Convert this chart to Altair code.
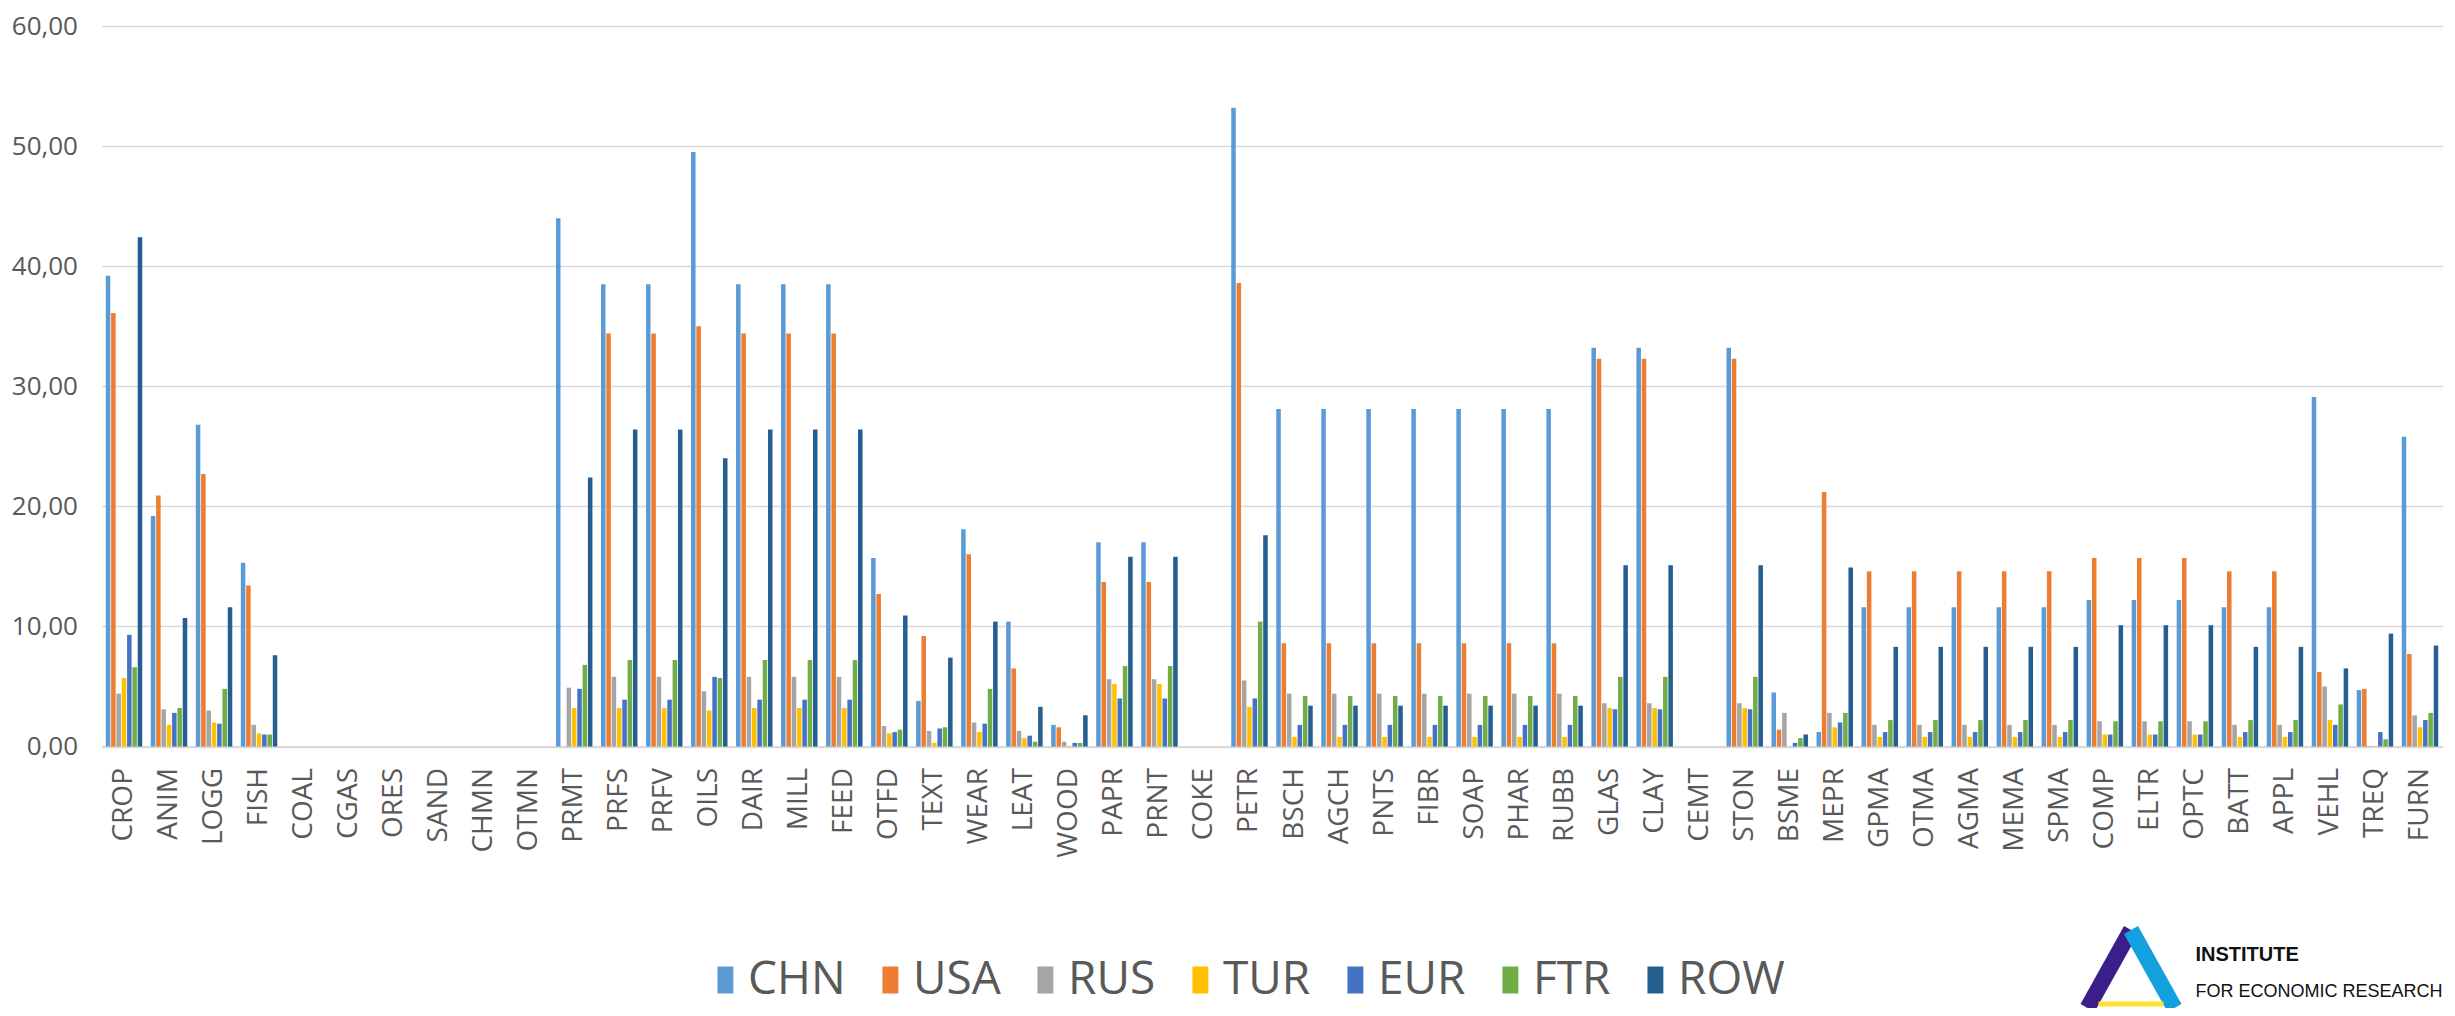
import altair as alt
import pandas as pd

categories = ["CROP", "ANIM", "LOGG", "FISH", "COAL", "CGAS", "ORES", "SAND", "CHMN", "OTMN",
              "PRMT", "PRFS", "PRFV", "OILS", "DAIR", "MILL", "FEED", "OTFD", "TEXT", "WEAR",
              "LEAT", "WOOD", "PAPR", "PRNT", "COKE", "PETR", "BSCH", "AGCH", "PNTS", "FIBR",
              "SOAP", "PHAR", "RUBB", "GLAS", "CLAY", "CEMT", "STON", "BSME", "MEPR", "GPMA",
              "OTMA", "AGMA", "MEMA", "SPMA", "COMP", "ELTR", "OPTC", "BATT", "APPL", "VEHL",
              "TREQ", "FURN"]

series = ["CHN", "USA", "RUS", "TUR", "EUR", "FTR", "ROW"]
colors = ["#5B9BD5", "#ED7D31", "#A5A5A5", "#FFC000", "#4472C4", "#70AD47", "#255E91"]

CHN = [39.2, 19.2, 26.8, 15.3, 0, 0, 0, 0, 0, 0,
       44.0, 38.5, 38.5, 49.5, 38.5, 38.5, 38.5, 15.7, 3.8, 18.1,
       10.4, 1.8, 17.0, 17.0, 0, 53.2, 28.1, 28.1, 28.1, 28.1,
       28.1, 28.1, 28.1, 33.2, 33.2, 0, 33.2, 4.5, 1.2, 11.6,
       11.6, 11.6, 11.6, 11.6, 12.2, 12.2, 12.2, 11.6, 11.6, 29.1,
       4.7, 25.8]
USA = [36.1, 20.9, 22.7, 13.4, 0, 0, 0, 0, 0, 0,
       0, 34.4, 34.4, 35.0, 34.4, 34.4, 34.4, 12.7, 9.2, 16.0,
       6.5, 1.6, 13.7, 13.7, 0, 38.6, 8.6, 8.6, 8.6, 8.6,
       8.6, 8.6, 8.6, 32.3, 32.3, 0, 32.3, 1.4, 21.2, 14.6,
       14.6, 14.6, 14.6, 14.6, 15.7, 15.7, 15.7, 14.6, 14.6, 6.2,
       4.8, 7.7]
RUS = [4.4, 3.1, 3.0, 1.8, 0, 0, 0, 0, 0, 0,
       4.9, 5.8, 5.8, 4.6, 5.8, 5.8, 5.8, 1.7, 1.3, 2.0,
       1.3, 0.4, 5.6, 5.6, 0, 5.5, 4.4, 4.4, 4.4, 4.4,
       4.4, 4.4, 4.4, 3.6, 3.6, 0, 3.6, 2.8, 2.8, 1.8,
       1.8, 1.8, 1.8, 1.8, 2.1, 2.1, 2.1, 1.8, 1.8, 5.0,
       0.05, 2.6]
TUR = [5.7, 1.8, 2.0, 1.1, 0, 0, 0, 0, 0, 0,
       3.2, 3.2, 3.2, 3.0, 3.2, 3.2, 3.2, 1.1, 0.3, 1.2,
       0.7, 0.05, 5.2, 5.2, 0, 3.3, 0.8, 0.8, 0.8, 0.8,
       0.8, 0.8, 0.8, 3.2, 3.2, 0, 3.2, 0.0, 1.6, 0.8,
       0.8, 0.8, 0.8, 0.8, 1.0, 1.0, 1.0, 0.8, 0.8, 2.2,
       0.05, 1.6]
EUR = [9.3, 2.8, 1.9, 1.0, 0, 0, 0, 0, 0, 0,
       4.8, 3.9, 3.9, 5.8, 3.9, 3.9, 3.9, 1.2, 1.5, 1.9,
       0.9, 0.3, 4.0, 4.0, 0, 4.0, 1.8, 1.8, 1.8, 1.8,
       1.8, 1.8, 1.8, 3.1, 3.1, 0, 3.1, 0.3, 2.0, 1.2,
       1.2, 1.2, 1.2, 1.2, 1.0, 1.0, 1.0, 1.2, 1.2, 1.8,
       1.2, 2.2]
FTR = [6.6, 3.2, 4.8, 1.0, 0, 0, 0, 0, 0, 0,
       6.8, 7.2, 7.2, 5.7, 7.2, 7.2, 7.2, 1.4, 1.6, 4.8,
       0.4, 0.3, 6.7, 6.7, 0, 10.4, 4.2, 4.2, 4.2, 4.2,
       4.2, 4.2, 4.2, 5.8, 5.8, 0, 5.8, 0.7, 2.8, 2.2,
       2.2, 2.2, 2.2, 2.2, 2.1, 2.1, 2.1, 2.2, 2.2, 3.5,
       0.6, 2.8]
ROW = [42.4, 10.7, 11.6, 7.6, 0, 0, 0, 0, 0, 0,
       22.4, 26.4, 26.4, 24.0, 26.4, 26.4, 26.4, 10.9, 7.4, 10.4,
       3.3, 2.6, 15.8, 15.8, 0, 17.6, 3.4, 3.4, 3.4, 3.4,
       3.4, 3.4, 3.4, 15.1, 15.1, 0, 15.1, 1.0, 14.9, 8.3,
       8.3, 8.3, 8.3, 8.3, 10.1, 10.1, 10.1, 8.3, 8.3, 6.5,
       9.4, 8.4]

y_ticks = [0, 10, 20, 30, 40, 50, 60]

values_by_series = {"CHN": CHN, "USA": USA, "RUS": RUS, "TUR": TUR,
                    "EUR": EUR, "FTR": FTR, "ROW": ROW}
rows = []
for s in series:
    for c, v in zip(categories, values_by_series[s]):
        rows.append({"cat": c, "series": s, "value": v})
df = pd.DataFrame(rows)

FONT = "Open Sans"
GRAY = "#595959"

bars = alt.Chart(df).mark_bar().encode(
    x=alt.X("cat:N", sort=categories,
            scale=alt.Scale(paddingInner=0.19, paddingOuter=0.095),
            axis=alt.Axis(title=None, labelAngle=-90, ticks=False, labelPadding=21,
                          labelFont=FONT, labelFontSize=28, labelColor=GRAY,
                          domainColor="#D9D9D9", domainWidth=2, grid=False)),
    xOffset=alt.XOffset("series:N", sort=series, scale=alt.Scale(paddingInner=0.15)),
    y=alt.Y("value:Q", scale=alt.Scale(domain=[0, 60], nice=False),
            axis=alt.Axis(title=None, values=y_ticks, ticks=False, domain=False,
                          labelExpr="replace(format(datum.value, '.2f'), '.', ',')",
                          labelFont=FONT, labelFontSize=26, labelColor=GRAY, labelPadding=24,
                          gridColor="#D9D9D9", gridWidth=1.6)),
    color=alt.Color("series:N", sort=series,
                    scale=alt.Scale(domain=series, range=colors),
                    legend=alt.Legend(title=None, orient="none", direction="horizontal",
                                      legendX=600.5, legendY=931, padding=0,
                                      symbolType="M-0.56,-1H0.62V1H-0.56Z", symbolSize=729,
                                      symbolStrokeWidth=0, labelFont=FONT,
                                      labelFontSize=46, labelColor=GRAY,
                                      labelOffset=0, columnPadding=21)),
)

one = alt.Data(values=[{"k": 1}])

leg_left = alt.Chart(one).mark_rule(color="#3A1E8A", strokeWidth=16, strokeCap="butt").encode(
    x=alt.value(2029.5), y=alt.value(904), x2=alt.value(1986), y2=alt.value(982))
leg_right = alt.Chart(one).mark_rule(color="#13A0DE", strokeWidth=16, strokeCap="butt").encode(
    x=alt.value(2029.5), y=alt.value(904), x2=alt.value(2073), y2=alt.value(982))
base_bar = alt.Chart(one).mark_rule(color="#FFE033", strokeWidth=5).encode(
    x=alt.value(1997), x2=alt.value(2062), y=alt.value(978))

t1 = alt.Chart(one).mark_text(text="INSTITUTE", align="left", baseline="alphabetic",
                              font="Liberation Sans", fontSize=20, fontWeight="bold",
                              color="#111111").encode(x=alt.value(2094), y=alt.value(935))
t2 = alt.Chart(one).mark_text(text="FOR ECONOMIC RESEARCH", align="left", baseline="alphabetic",
                              font="Liberation Sans", fontSize=18,
                              color="#111111").encode(x=alt.value(2094), y=alt.value(971))

chart = alt.layer(bars, leg_left, leg_right, base_bar, t1, t2).properties(
    width=2341, height=720.5,
    autosize=alt.AutoSizeParams(type="none"),
    padding={"left": 93.5, "top": 18, "right": 4.5, "bottom": 261.5},
    background="white",
).configure_view(stroke=None)

chart.save("out.html", embed_options={"renderer": "svg", "actions": False})
